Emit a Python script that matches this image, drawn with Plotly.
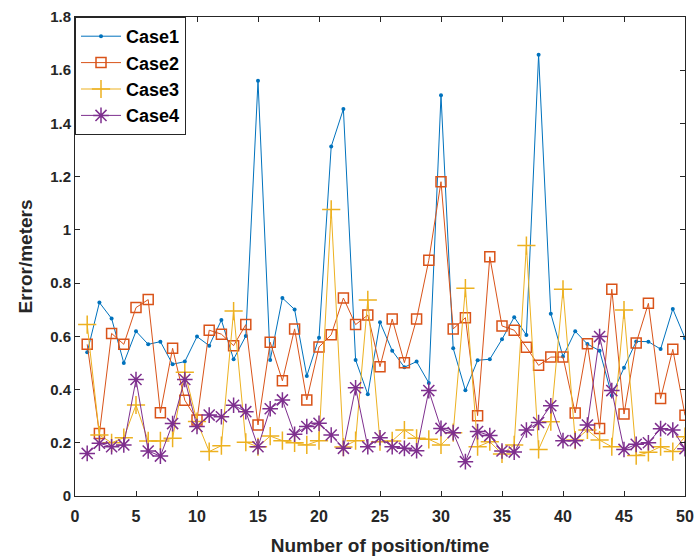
import plotly.graph_objects as go

x = list(range(1, 51))
case1 = [0.54, 0.727, 0.667, 0.50, 0.619, 0.57, 0.58, 0.495, 0.505, 0.599,
         0.565, 0.661, 0.514, 0.601, 1.56, 0.511, 0.744, 0.701, 0.451, 0.595,
         1.313, 1.454, 0.511, 0.382, 0.653, 0.546, 0.484, 0.505, 0.425, 1.506,
         0.555, 0.397, 0.51, 0.514, 0.589, 0.672, 0.605, 1.658, 0.685, 0.524,
         0.619, 0.571, 0.546, 0.378, 0.482, 0.581, 0.58, 0.552, 0.703, 0.593]
case2 = [0.57, 0.235, 0.611, 0.57, 0.708, 0.738, 0.313, 0.555, 0.36, 0.286,
         0.623, 0.608, 0.565, 0.644, 0.267, 0.578, 0.433, 0.628, 0.361, 0.56,
         0.606, 0.744, 0.644, 0.68, 0.486, 0.665, 0.501, 0.665, 0.886, 1.181,
         0.628, 0.67, 0.302, 0.899, 0.639, 0.623, 0.559, 0.491, 0.522, 0.522,
         0.312, 0.572, 0.254, 0.777, 0.308, 0.575, 0.724, 0.366, 0.551, 0.303]
case3 = [0.644, 0.229, 0.20, 0.219, 0.342, 0.207, 0.207, 0.217, 0.465, 0.28,
         0.167, 0.189, 0.695, 0.202, 0.185, 0.225, 0.208, 0.20, 0.192, 0.208,
         1.077, 0.184, 0.208, 0.737, 0.204, 0.207, 0.248, 0.217, 0.213, 0.192,
         0.238, 0.781, 0.185, 0.204, 0.158, 0.192, 0.941, 0.175, 0.279, 0.777,
         0.21, 0.248, 0.21, 0.185, 0.699, 0.152, 0.164, 0.185, 0.167, 0.223]
case4 = [0.16, 0.198, 0.185, 0.192, 0.438, 0.169, 0.15, 0.272, 0.438, 0.261,
         0.304, 0.298, 0.341, 0.317, 0.185, 0.328, 0.361, 0.232, 0.261, 0.273,
         0.229, 0.179, 0.407, 0.185, 0.219, 0.185, 0.179, 0.17, 0.396, 0.254,
         0.238, 0.129, 0.242, 0.227, 0.169, 0.165, 0.248, 0.276, 0.339, 0.208,
         0.208, 0.267, 0.599, 0.396, 0.175, 0.194, 0.2, 0.253, 0.248, 0.178]

names = ["Case1", "Case2", "Case3", "Case4"]
colors = ["#0072BD", "#D95319", "#EDB120", "#7E2F8E"]
symbols = ["circle", "square-open", "cross-thin-open", "asterisk-open"]
sizes = [4, 10, 13, 13]

fig = go.Figure()
for name, ys, c, s, sz in zip(names, [case1, case2, case3, case4], colors, symbols, sizes):
    fig.add_trace(go.Scatter(
        x=x, y=ys, name=name, mode="lines+markers",
        line=dict(color=c, width=1),
        marker=dict(symbol=s, size=sz, color=c, line=dict(color=c, width=1.5 if s != "circle" else 0)),
    ))

font_family = "Liberation Sans, Arial, sans-serif"
fig.update_layout(
    width=694, height=559,
    margin=dict(l=75, r=9, t=17, b=63),
    plot_bgcolor="white", paper_bgcolor="white",
    font=dict(family=font_family, color="#262626"),
    showlegend=True,
    legend=dict(x=0, y=1, xanchor="left", yanchor="top",
                bgcolor="white", bordercolor="#262626", borderwidth=1,
                font=dict(size=18, weight="bold", color="black"),
                tracegroupgap=0, itemwidth=40),
)
fig.update_xaxes(
    range=[0, 50], tickvals=list(range(0, 51, 5)),
    ticks="inside", ticklen=5, tickcolor="#262626",
    showline=True, linecolor="#262626", linewidth=1, mirror="allticks",
    showgrid=False, zeroline=False, automargin=False,
    tickfont=dict(size=16, weight="bold"), ticklabelstandoff=6,
    title=dict(text="Number of position/time", font=dict(size=19, weight="bold"), standoff=14),
)
fig.update_yaxes(
    range=[0, 1.8], tickvals=[0, 0.2, 0.4, 0.6, 0.8, 1.0, 1.2, 1.4, 1.6, 1.8],
    ticktext=["0", "0.2", "0.4", "0.6", "0.8", "1", "1.2", "1.4", "1.6", "1.8"],
    ticks="inside", ticklen=5, tickcolor="#262626",
    showline=True, linecolor="#262626", linewidth=1, mirror="allticks",
    showgrid=False, zeroline=False, automargin=False,
    tickfont=dict(size=15, weight="bold"),
    title=dict(text="Error/meters", font=dict(size=19, weight="bold"), standoff=12),
)
fig.write_html("out.html")
